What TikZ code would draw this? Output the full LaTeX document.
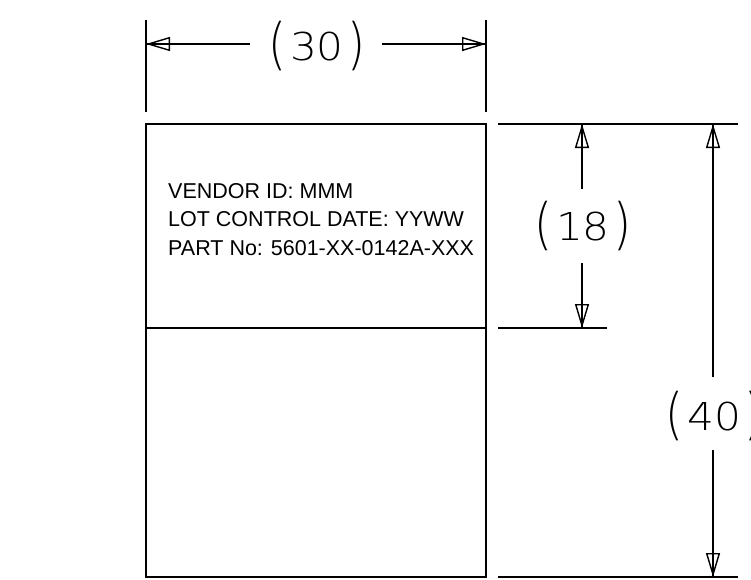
\documentclass[tikz,border=0pt]{standalone}
\usepackage{fontspec}
\setmainfont{Liberation Sans}
\newfontfamily\dimfont{DejaVu Sans ExtraLight}
\usetikzlibrary{arrows.meta}
\newcommand\dimpar[1]{\raisebox{-3.4pt}{\scalebox{1.2}[1.45]{#1}}}
\newcommand\dimval[1]{\dimpar{(}\hspace{4pt}\scalebox{1.1}[1]{#1}\hspace{4pt}\dimpar{)}}
\tikzset{
  outline/.style={line width=1.7pt, line cap=rect},
  dimline/.style={line width=1.4pt},
  dimarrow/.style={dimline, -{Triangle[open,length=24pt,width=14pt]}},
  dimtext/.style={font=\dimfont\fontsize{38.4}{39}\selectfont, inner sep=0pt},
  labeltext/.style={font=\fontsize{21.5}{28.5}\selectfont, align=left, inner sep=0pt, anchor=north west},
}
\begin{document}
\begin{tikzpicture}[x=1pt,y=-1pt]
\useasboundingbox (0,0) rectangle (751,579);
% box
\coordinate (tl) at (146,124);
\coordinate (tr) at (486,124);
\coordinate (bl) at (146,577);
\coordinate (br) at (486,577);
\coordinate (ml) at (146,328);
\coordinate (mr) at (486,328);
\draw[outline] (tl) rectangle (br);
\draw[outline] (ml) -- (mr);
\node[labeltext] (label) at (168,183) {VENDOR ID: MMM\\LOT CONTROL DATE: YYWW\\PART No: 5601-XX-0142A-XXX};
% top dimension (30)
\coordinate (e1a) at (146,20);
\coordinate (e1b) at (146,112);
\coordinate (e2a) at (486,20);
\coordinate (e2b) at (486,112);
\draw[dimline] (e1a) -- (e1b);
\draw[dimline] (e2a) -- (e2b);
\coordinate (a30l) at (146,44);
\coordinate (a30r) at (486,44);
\coordinate (g30l) at (250,44);
\coordinate (g30r) at (382,44);
\draw[dimarrow] (g30l) -- (a30l);
\draw[dimarrow] (g30r) -- (a30r);
\draw[dimline] (g30l) -- (a30l);
\draw[dimline] (g30r) -- (a30r);
\node[dimtext] (t30) at (317,46) {\dimval{30}};
% right extension lines
\coordinate (x1a) at (498,124);
\coordinate (x1b) at (738,124);
\coordinate (x1c) at (607,124);
\coordinate (x2a) at (498,328);
\coordinate (x2b) at (607,328);
\coordinate (x3a) at (498,577);
\coordinate (x3b) at (738,577);
\draw[dimline] (x1a) -- (x1b);
\draw[outline, line cap=butt] (x1a) -- (x1c);
\draw[dimline] (x2a) -- (x2b);
\draw[dimline] (x3a) -- (x3b);
% dimension (18)
\coordinate (a18t) at (582,124);
\coordinate (a18b) at (582,328);
\coordinate (g18t) at (582,189);
\coordinate (g18b) at (582,263);
\draw[dimarrow] (g18t) -- (a18t);
\draw[dimarrow] (g18b) -- (a18b);
\draw[dimline] (g18t) -- (a18t);
\draw[dimline] (g18b) -- (a18b);
\node[dimtext] (t18) at (583,226) {\dimval{18}};
% dimension (40)
\coordinate (a40t) at (713,124);
\coordinate (a40b) at (713,577);
\coordinate (g40t) at (713,377);
\coordinate (g40b) at (713,450);
\draw[dimarrow] (g40t) -- (a40t);
\draw[dimarrow] (g40b) -- (a40b);
\draw[dimline] (g40t) -- (a40t);
\draw[dimline] (g40b) -- (a40b);
\node[dimtext] (t40) at (714,416) {\dimval{40}};
\end{tikzpicture}
\end{document}
